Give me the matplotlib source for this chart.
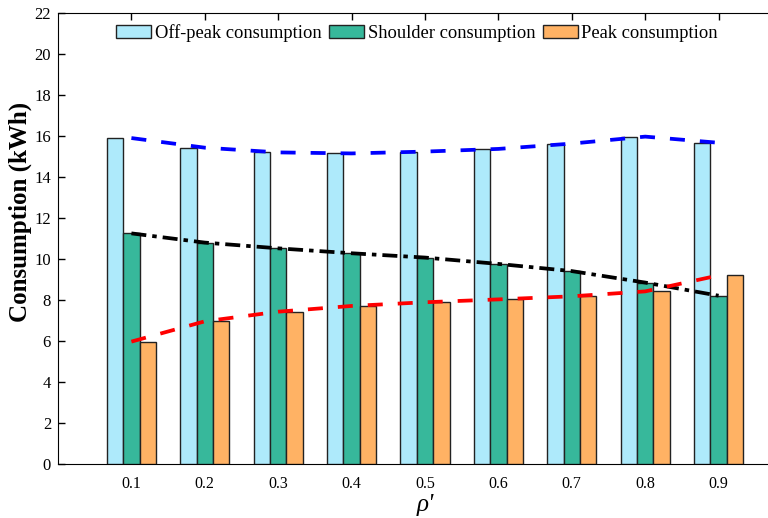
import numpy as np
import matplotlib.pyplot as plt

plt.rcParams['font.family'] = ['Liberation Serif', 'DejaVu Serif']

rho = ['0.1', '0.2', '0.3', '0.4', '0.5', '0.6', '0.7', '0.8', '0.9']
off_peak = [15.9, 15.43, 15.2, 15.15, 15.24, 15.37, 15.63, 15.97, 15.67]
shoulder = [11.25, 10.8, 10.52, 10.28, 10.07, 9.76, 9.41, 8.85, 8.21]
peak = [5.97, 6.96, 7.43, 7.71, 7.89, 8.03, 8.18, 8.42, 9.2]

c_off = '#AEEAFB'
c_sh = '#37B89B'
c_pk = '#FFB264'

fig = plt.figure(figsize=(7.68, 5.18), dpi=100)
# axes runs a bit past the right edge, like the cropped original
ax = fig.add_axes([58/768, 54/518, 734/768, 451/518])

x = np.arange(1, len(rho) + 1)
w = 0.223
ax.bar(x - w, off_peak, w, color=c_off, edgecolor='#222222', lw=1, zorder=3, label='Off-peak consumption')
ax.bar(x, shoulder, w, color=c_sh, edgecolor='#222222', lw=1, zorder=3, label='Shoulder consumption')
ax.bar(x + w, peak, w, color=c_pk, edgecolor='#222222', lw=1, zorder=3, label='Peak consumption')

# trend lines through the group centres
ax.plot(x, off_peak, color='blue', lw=2.7, dashes=[4, 4], zorder=4)
ax.plot(x, shoulder, color='black', lw=2.7, dashes=[4, 1.6, 1.2, 1.6], zorder=4)
ax.plot(x, peak, color='red', lw=2.7, dashes=[4, 4], zorder=4)

ax.set_xlim(0, 10)
ax.set_ylim(0, 22)
ax.set_yticks(np.arange(0, 23, 2))
ax.set_xticks(x)
ax.set_xticklabels(rho)
ax.tick_params(axis='both', direction='in', length=5, width=1)
ax.tick_params(axis='y', labelsize=12, pad=5)
ax.tick_params(axis='x', top=True, pad=9, labelsize=11.5)
ax.spines['right'].set_visible(False)

ax.set_ylabel('Consumption (kWh)', fontsize=18, fontweight='bold')
ax.yaxis.set_label_coords(-0.035, 0.559)
ax.set_xlabel("ρ'", fontsize=18, fontstyle='italic', labelpad=1)

ax.legend(loc='center', bbox_to_anchor=(417/768, 1 - 33/518), bbox_transform=fig.transFigure,
          ncol=3, frameon=False, fontsize=13.3, handlelength=1.9, handleheight=0.75,
          handletextpad=0.2, columnspacing=0.4, borderpad=0.2)

plt.savefig('out.png', dpi=100)
